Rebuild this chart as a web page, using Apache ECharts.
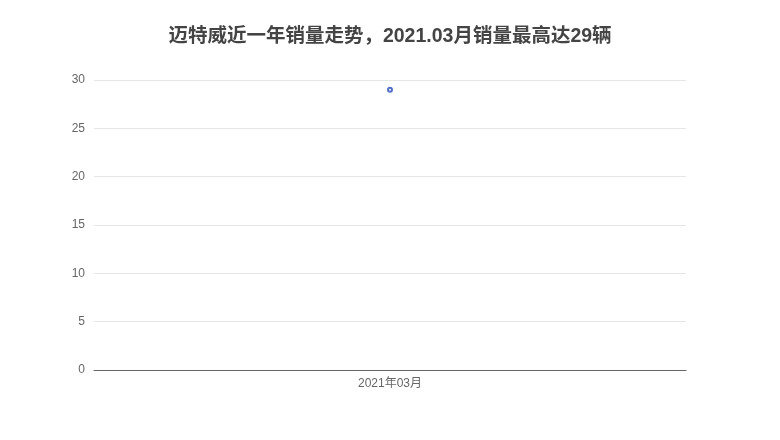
<!DOCTYPE html>
<html>
<head>
<meta charset="utf-8">
<script src="https://cdn.jsdelivr.net/npm/echarts@6/dist/echarts.min.js"></script>
<style>
  html, body { margin: 0; padding: 0; background: #fff; }
  #chart { width: 780px; height: 440px; }
</style>
</head>
<body>
<div id="chart"></div>
<script>
// data
const months = ['2021年03月'];
const sales = [29];
const yTicks = { min: 0, max: 30, interval: 5 };

const font = '"Liberation Sans", "Noto Sans CJK SC", sans-serif';
const chart = echarts.init(document.getElementById('chart'));

chart.setOption({
    textStyle: { fontFamily: font },
    title: {
        text: '迈特威近一年销量走势，2021.03月销量最高达29辆',
        left: 'center',
        top: 22,
        textStyle: { color: '#444', fontSize: 19.5, fontWeight: 'bold', fontFamily: font }
    },
    grid: { left: 94, right: 94, top: 80, bottom: 70 },
    xAxis: {
        type: 'category',
        data: months,
        axisLine: { lineStyle: { color: '#666' } },
        axisTick: { alignWithLabel: true, lineStyle: { color: '#666' } },
        axisLabel: { color: '#666', fontSize: 12, margin: 8 }
    },
    yAxis: {
        type: 'value',
        min: yTicks.min,
        max: yTicks.max,
        interval: yTicks.interval,
        axisLabel: { color: '#666', fontSize: 12, margin: 9 },
        splitLine: { lineStyle: { color: '#e6e6e6' } }
    },
    series: [{
        name: '销量',
        type: 'line',
        data: sales,
        symbol: 'emptyCircle',
        symbolSize: 4,
        itemStyle: { color: '#5470c6' },
        lineStyle: { color: '#5470c6', width: 2 }
    }]
});

window.addEventListener('resize', () => chart.resize());
</script>
</body>
</html>
